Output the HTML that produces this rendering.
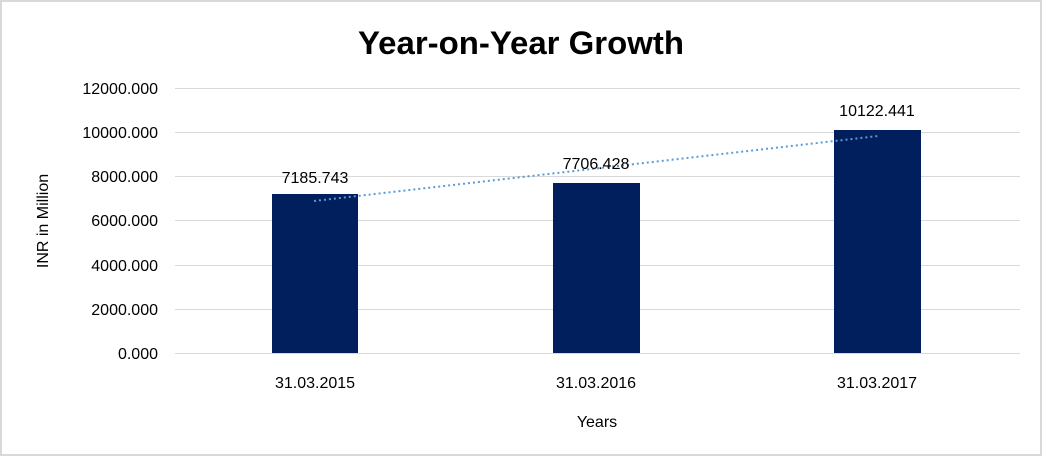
<!DOCTYPE html>
<html><head><style>
body{margin:0;background:#fff;}
svg{display:block;}
text{font-family:"Liberation Sans",Arial,sans-serif;fill:#000;}
</style></head><body>
<svg width="1042" height="456" xmlns="http://www.w3.org/2000/svg">
<rect x="1" y="1" width="1040" height="454" fill="#fff" stroke="#d9d9d9" stroke-width="2"/>
<text x="521" y="54" text-anchor="middle" font-size="32" font-weight="bold" textLength="326" lengthAdjust="spacingAndGlyphs">Year-on-Year Growth</text>
<g stroke="#d9d9d9" stroke-width="1">
<line x1="175" y1="88.5" x2="1020" y2="88.5"/>
<line x1="175" y1="132.5" x2="1020" y2="132.5"/>
<line x1="175" y1="176.5" x2="1020" y2="176.5"/>
<line x1="175" y1="220.5" x2="1020" y2="220.5"/>
<line x1="175" y1="265.5" x2="1020" y2="265.5"/>
<line x1="175" y1="309.5" x2="1020" y2="309.5"/>
<line x1="175" y1="353.5" x2="1020" y2="353.5"/>
</g>
<g font-size="16" text-anchor="end">
<text x="158" y="94">12000.000</text>
<text x="158" y="138">10000.000</text>
<text x="158" y="182">8000.000</text>
<text x="158" y="226">6000.000</text>
<text x="158" y="271">4000.000</text>
<text x="158" y="315">2000.000</text>
<text x="158" y="359">0.000</text>
</g>
<g fill="#001f5c">
<rect x="272" y="194" width="86" height="159"/>
<rect x="553" y="183" width="87" height="170"/>
<rect x="834" y="130" width="87" height="223"/>
</g>
<line x1="314" y1="201" x2="878" y2="136" stroke="#5b9bd5" stroke-width="2" stroke-dasharray="2,3"/>
<g font-size="16" text-anchor="middle">
<text x="315" y="183">7185.743</text>
<text x="596" y="169">7706.428</text>
<text x="877" y="116">10122.441</text>
<text x="315" y="388">31.03.2015</text>
<text x="596" y="388">31.03.2016</text>
<text x="877" y="388">31.03.2017</text>
<text x="597" y="427">Years</text>
<text transform="translate(48,221) rotate(-90)">INR in Million</text>
</g>
</svg>
</body></html>
